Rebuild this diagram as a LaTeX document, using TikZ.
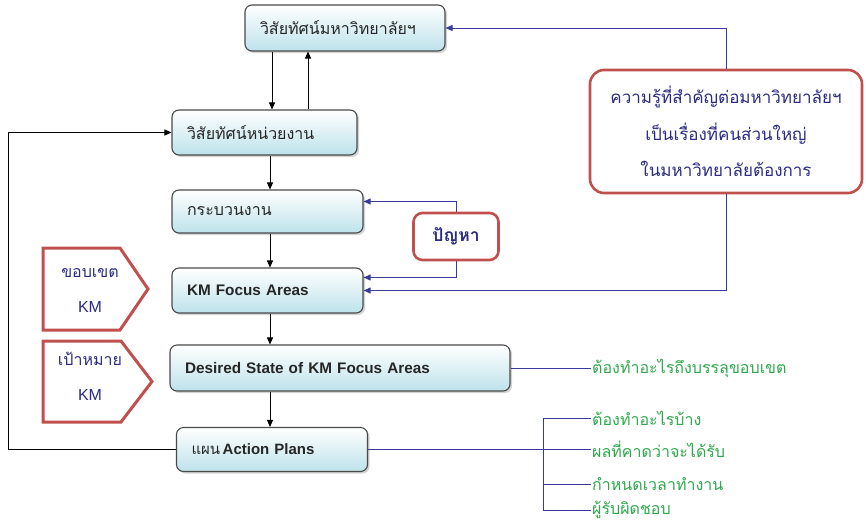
\documentclass[tikz,border=0pt]{standalone}
\usepackage{fontspec}
\setmainfont{Liberation Sans}
\newfontfamily\thai[Script=Thai]{Loma}
\usetikzlibrary{arrows.meta,shadows}
\definecolor{boxborder}{HTML}{4A4A4A}
\definecolor{boxblue}{HTML}{BDE2EB}
\definecolor{redline}{HTML}{C0504D}
\definecolor{navy}{HTML}{2B2B85}
\definecolor{blueline}{HTML}{3A3A9A}
\definecolor{greentext}{HTML}{2EA84C}
\begin{document}
\begin{tikzpicture}[x=1pt,y=-1pt,
  box/.style={draw=boxborder, line width=1.1pt, rounded corners=7pt,
    top color=white, bottom color=boxblue,
    drop shadow={shadow xshift=2pt, shadow yshift=-2pt, opacity=0.35},
    inner xsep=15pt, inner ysep=0pt, align=left, text=black!85},
  thaibox/.style={box, font=\thai\fontsize{16}{18}\selectfont},
  latbox/.style={box, font=\bfseries\fontsize{15.3}{18}\selectfont},
  redbox/.style={draw=redline, line width=2.6pt, fill=white, text=navy, align=center},
  tagshape/.style={draw=redline, line width=3pt, fill=white, line join=miter},
  tagtext/.style={text=navy, font=\fontsize{16}{18}\selectfont, inner sep=1pt},
  arr/.style={line width=0.9pt, black, -{Triangle[length=7pt,width=6pt]}},
  bl/.style={line width=0.9pt, blueline},
  blarr/.style={bl, -{Triangle[length=7pt,width=6pt]}},
  green/.style={anchor=west, text=greentext, inner xsep=1pt, font=\thai\fontsize{16}{18}\selectfont}
]
\useasboundingbox (0,0) rectangle (866,528);

% main boxes
\node[thaibox, text width=170pt, minimum height=46pt] (b1) at (345,28) {วิสัยทัศน์มหาวิทยาลัยฯ};
\node[thaibox, text width=155pt, minimum height=45pt] (b2) at (264.5,132.5) {วิสัยทัศน์หน่วยงาน};
\node[thaibox, text width=161pt, minimum height=43pt] (b3) at (267.5,211.5) {กระบวนงาน};
\node[latbox, text width=161pt, minimum height=45pt] (b4) at (267.5,290.5) {KM Focus Areas};
\node[latbox, text width=310pt, minimum height=46pt] (b5) at (340,368) {Desired State of KM Focus Areas};
\node[box, text width=161pt, minimum height=44pt, font=\fontsize{15}{18}\selectfont] (b6) at (272,449.5) {{\thai แผน}\,\textbf{Action Plans}};

% red boxes
\node[redbox, rounded corners=14pt, minimum width=272pt, minimum height=123pt,
  font=\thai\fontsize{17}{36.5}\selectfont] (kb) at (726,131.5)
  {ความรู้ที่สำคัญต่อมหาวิทยาลัยฯ\\เป็นเรื่องที่คนส่วนใหญ่\\ในมหาวิทยาลัยต้องการ};
\node[redbox, rounded corners=9pt, minimum width=85pt, minimum height=47pt,
  font=\thai\bfseries\fontsize{17.5}{20}\selectfont] (pb) at (456,236.5) {ปัญหา};

% tag pentagons
\draw[tagshape] (43,248) -- (120,248) -- (148,289) -- (120,330) -- (43,330) -- cycle;
\node[tagtext, font=\thai\fontsize{16}{18}\selectfont] (t1a) at (90,273) {ขอบเขต};
\node[tagtext] (t1b) at (90,307) {KM};
\draw[tagshape] (43,341) -- (121,341) -- (152,381.5) -- (121,422) -- (43,422) -- cycle;
\node[tagtext, font=\thai\fontsize{16}{18}\selectfont] (t2a) at (90,359) {เป้าหมาย};
\node[tagtext] (t2b) at (90,395) {KM};

% coordinates for vertical lines
\coordinate (xa) at (272,0);
\coordinate (xb) at (308,0);
\coordinate (xc) at (270,0);
\coordinate (fl) at (8,0);
\coordinate (bx) at (543,0);

% black arrows
\draw[arr] (b1.south -| xa) -- (b2.north -| xa);
\draw[arr] (b2.north -| xb) -- (b1.south -| xb);
\draw[arr] (b2.south -| xc) -- (b3.north -| xc);
\draw[arr] (b3.south -| xc) -- (b4.north -| xc);
\draw[arr] (b4.south -| xc) -- (b5.north -| xc);
\draw[arr] (b5.south -| xc) -- (b6.north -| xc);
\draw[arr] (b6.west) -- (b6.west -| fl) -- (b2.west -| fl) -- (b2.west);

% blue arrows
\draw[blarr] (kb.north) |- (b1.east);
\draw[blarr] (kb.south) |- (b4.east);
\draw[blarr] (pb.north) |- ([yshift=10pt]b3.east);
\draw[blarr] (pb.south) |- ([yshift=13pt]b4.east);

% green texts
\node[green] (g0) at (591,368) {ต้องทำอะไรถึงบรรลุขอบเขต};
\node[green] (g1) at (591,418) {ต้องทำอะไรบ้าง};
\node[green] (g2) at (591,449.5) {ผลที่คาดว่าจะได้รับ};
\node[green] (g3) at (591,484) {กำหนดเวลาทำงาน};
\node[green] (g4) at (591,510) {ผู้รับผิดชอบ};

\draw[bl] (b5.east) -- (g0.west);
\draw[bl] (b6.east) -- (g2.west);
\draw[bl] (g1.west) -- (g1.west -| bx) -- (g4.west -| bx) -- (g4.west);
\draw[bl] (g3.west -| bx) -- (g3.west);
\end{tikzpicture}
\end{document}
